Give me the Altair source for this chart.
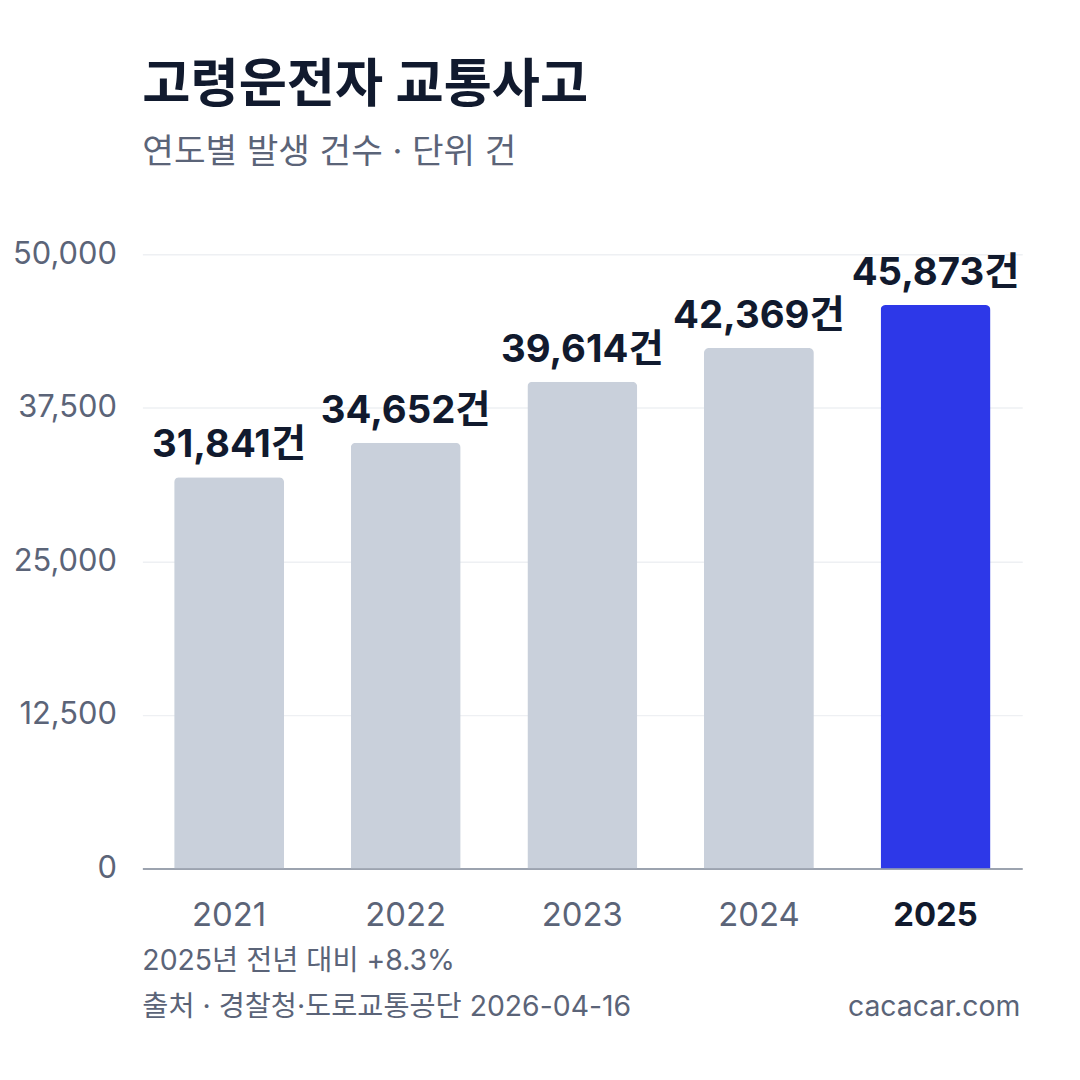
import altair as alt
import pandas as pd

# data
years = ["2021", "2022", "2023", "2024", "2025"]
counts = [31841, 34652, 39614, 42369, 45873]
highlight = "2025"
y_ticks = [0, 12500, 25000, 37500, 50000]

title_text = "고령운전자 교통사고"
subtitle_text = "연도별 발생 건수 · 단위 건"
note_text = "2025년 전년 대비 +8.3%"
source_text = "출처 · 경찰청·도로교통공단 2026-04-16"
site_text = "cacacar.com"

FONT = "Inter, 'Noto Sans CJK KR', sans-serif"
DARK = "#111a2e"
GRAY = "#5b6478"

df = pd.DataFrame({"year": years, "count": counts})
df["hl"] = df["year"] == highlight

W, H = 884, 617

base = alt.Chart(df).encode(
    x=alt.X("year:N", sort=years, title=None,
            scale=alt.Scale(paddingInner=0.378, paddingOuter=0.18),
            axis=alt.Axis(labelAngle=0, labelFontSize=33, labelFont=FONT,
                          labelPadding=31, ticks=False,
                          domainColor="#9ca3af", domainWidth=2,
                          labelColor=alt.expr(f"datum.value == '{highlight}' ? '{DARK}' : '{GRAY}'"),
                          labelFontWeight=alt.expr(f"datum.value == '{highlight}' ? 'bold' : 'normal'"))),
    y=alt.Y("count:Q", title=None,
            scale=alt.Scale(domain=[0, 50000], nice=False),
            axis=alt.Axis(values=y_ticks, format=",.0f", labelFontSize=31, labelFont=FONT,
                          labelColor=GRAY, labelPadding=26, ticks=False, domain=False,
                          gridColor="#eef0f3", gridWidth=1.5)),
)

bars = base.mark_bar(cornerRadiusTopLeft=5, cornerRadiusTopRight=5).encode(
    color=alt.Color("hl:N", scale=alt.Scale(domain=[False, True], range=["#c9d0db", "#2d38e8"]),
                    legend=None)
)

labels = base.transform_calculate(
    lab="format(datum.count, ',') + '건'"
).mark_text(baseline="alphabetic", dy=-20, fontSize=38.5, fontWeight="bold",
            font=FONT, color=DARK).encode(text="lab:N")


def note(txt, x, y, size, color, weight="normal", align="left"):
    return alt.Chart(pd.DataFrame({"t": [txt]})).mark_text(
        align=align, baseline="alphabetic", fontSize=size, fontWeight=weight,
        font=FONT, color=color
    ).encode(text="t:N", x=alt.value(x), y=alt.value(y))


texts = [
    note(title_text, 0, -153, 52.6, DARK, "bold"),
    note(subtitle_text, 0, -92, 34.5, GRAY),
    note(note_text, 0, 719, 28.5, GRAY),
    note(source_text, 0, 765, 28.5, GRAY),
    note(site_text, W - 2, 765, 28.5, GRAY, align="right"),
]

chart = alt.layer(bars, labels, *texts).properties(
    width=W, height=H,
    background="white",
    autosize=alt.AutoSizeParams(type="none"),
    padding={"left": 135, "top": 245, "right": 50, "bottom": 180},
).configure_view(stroke=None)

chart.save("out.html", embed_options={"renderer": "svg", "actions": False})
